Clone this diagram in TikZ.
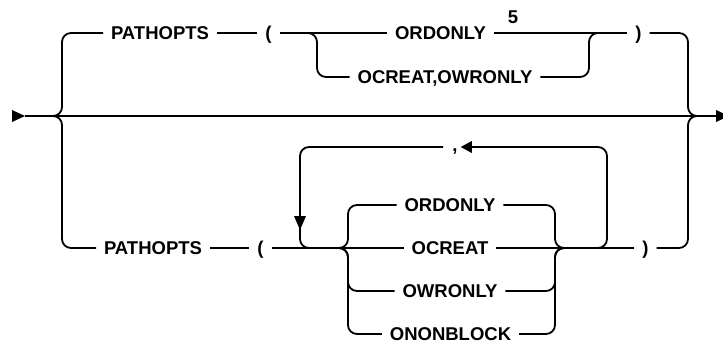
\documentclass[tikz,border=0pt]{standalone}
\usepackage{fontspec}
\setmainfont{Liberation Sans}
\begin{document}
\begin{tikzpicture}[x=1pt,y=-1pt]
\tikzset{
  ln/.style={line width=1.8pt, rounded corners=9pt},
  kwfnt/.style={font=\bfseries\fontsize{18.5}{18.5}\selectfont},
  kw/.style={kwfnt, inner sep=0pt, outer xsep=8pt, text height=13.2pt, text depth=0pt},
  tip/.style={fill=black},
}
\useasboundingbox (0,0) rectangle (723,345);
\clip (0,0) rectangle (723,345);

% nodes: top alternative
\node[kw] (p1)  at (160,33)   {PATHOPTS};
\node[kw] (lp1) at (268.5,33) {(};
\node[kw] (o1)  at (440.5,33) {ORDONLY};
\node[kw,outer xsep=0pt] (five) at (513,17) {5};
\node[kw] (oc1) at (445,77)   {OCREAT,OWRONLY};
\node[kw] (rp1) at (638.5,33) {)};
% nodes: bottom alternative
\node[kw] (p2)  at (153,248)  {PATHOPTS};
\node[kw] (lp2) at (260.5,248){(};
\node[kw] (b1)  at (450,205)  {ORDONLY};
\node[kw] (b2)  at (450,248)  {OCREAT};
\node[kw] (b3)  at (450,291)  {OWRONLY};
\node[kw] (b4)  at (450.5,334){ONONBLOCK};
\node[kw] (rp2) at (645.5,248){)};
\node[kwfnt,inner sep=0pt,anchor=base] (comma) at (455,151) {,};

% main line
\coordinate (in)  at (25,116);
\coordinate (out) at (716,116);
\fill[tip] (12,110) -- (in) -- (12,122) -- cycle;
\draw[ln] (in) -- (out);
\fill[tip] (out) ++(0,-6) -- ++(13,6) -- ++(-13,6) -- cycle;

% left split
\draw[ln] (54,116) -| (62,33) -- (p1.west);
\draw[ln] (54,116) -| (62,248) -- (p2.west);
% right join
\draw[ln] (rp1.east) -| (688,116) -- (696,116);
\draw[ln] (rp2.east) -| (688,116) -- (696,116);

% top row
\draw[ln] (p1.east) -- (lp1.west);
\draw[ln] (lp1.east) -- (o1.west);
\draw[ln] (o1.east) -- (rp1.west);
\draw[ln] (309,33) -| (317,77) -- (oc1.west);
\draw[ln] (oc1.east) -| (589,33) -- (597,33);

% bottom row
\draw[ln] (p2.east) -- (lp2.west);
\draw[ln] (lp2.east) -- (b2.west);
\draw[ln] (b2.east) -- (rp2.west);
\draw[ln] (340,248) -| (348,205) -- (b1.west);
\draw[ln] (340,248) -| (348,291) -- (b3.west);
\draw[ln] (340,248) -| (348,334) -- (b4.west);
\draw[ln] (b1.east) -| (555,248) -- (563,248);
\draw[ln] (b3.east) -| (555,248) -- (563,248);
\draw[ln] (b4.east) -| (555,248) -- (563,248);

% repeat loop
\coordinate (ctip) at ([xshift=3pt]comma.east |- 0,147);
\draw[ln] (595,248) -| (607,147) -- ([xshift=11pt]ctip);
\fill[tip] ([xshift=11pt,yshift=-6pt]ctip) -- (ctip) -- ([xshift=11pt,yshift=6pt]ctip) -- cycle;
\draw[ln] ([xshift=-9pt]comma.west |- 0,147) -| (300,248) -- (312,248);
\fill[tip] (294,216) -- (300,230) -- (306,216) -- cycle;
\end{tikzpicture}
\end{document}
